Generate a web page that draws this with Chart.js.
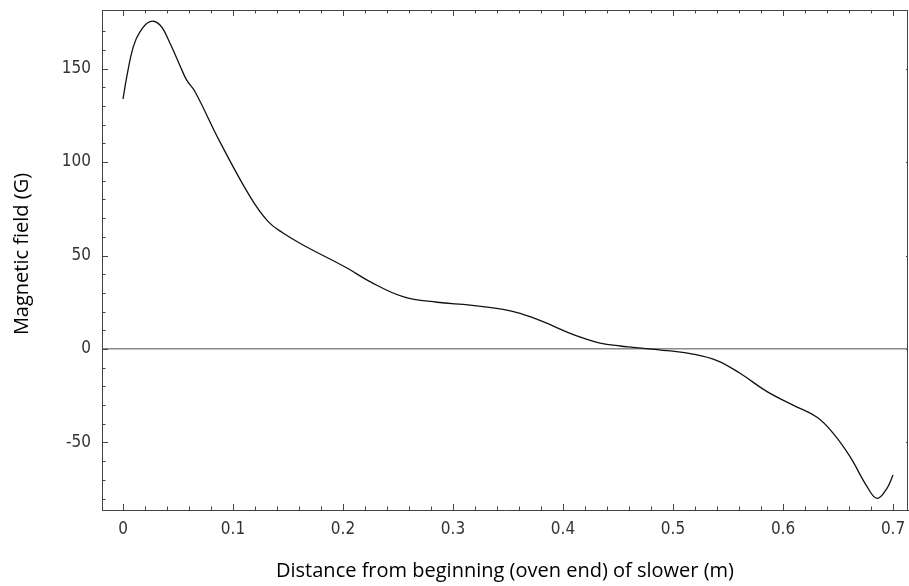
<!DOCTYPE html>
<html><head><meta charset="utf-8">
<script src="https://cdn.jsdelivr.net/npm/chart.js@4/dist/chart.umd.min.js"></script>
<style>html,body{margin:0;padding:0;background:#fff}#wrap{width:909px;height:586px}</style>
</head><body><div id="wrap"><canvas id="c" width="909" height="586"></canvas></div>
<script>
// Distance from beginning of slower (m)
const distance = [0, 0.0034, 0.0094, 0.0155, 0.0245, 0.0336, 0.0427, 0.0518, 0.0579, 0.0655, 0.088, 0.1155, 0.132, 0.1455, 0.1636, 0.2036, 0.2245, 0.2545, 0.2855, 0.3155, 0.3455, 0.361, 0.3818, 0.4064, 0.4218, 0.4336, 0.4518, 0.4636, 0.4945, 0.5182, 0.54, 0.5609, 0.5855, 0.6091, 0.6309, 0.6455, 0.6609, 0.6764, 0.6855, 0.6945, 0.7];
// Magnetic field (G)
const field = [133.7, 145.6, 161.7, 169.7, 175.1, 173.3, 163.5, 151.5, 143.8, 137.6, 110.9, 81.5, 68.1, 62, 55.6, 43.3, 36, 28, 25, 23.5, 21.2, 19, 14.6, 8.4, 5.2, 3.2, 1.6, 0.9, -0.9, -2.7, -6.2, -13, -22.8, -30, -36.5, -45, -57.6, -73.6, -79.9, -74.5, -67.4];
const xTickValues = [0, 0.1, 0.2, 0.3, 0.4, 0.5, 0.6, 0.7];
const yTickValues = [-50, 0, 50, 100, 150];
const xTitle = 'Distance from beginning (oven end) of slower (m)';
const yTitle = 'Magnetic field (G)';

const tickFont = {family: '"Liberation Sans Narrow", "DejaVu Sans Condensed", "Liberation Sans", sans-serif', size: 17};
const titleFont = {family: '"Open Sans", "Noto Sans", sans-serif', size: 20};

const framePlugin = {
  id: 'frame',
  afterDraw(chart) {
    const {ctx, chartArea: a, scales: {x, y}} = chart;
    ctx.save();
    ctx.strokeStyle = '#444';
    ctx.lineWidth = 1;
    ctx.beginPath();
    ctx.moveTo(a.left, a.top + 0.5); ctx.lineTo(a.right, a.top + 0.5);
    ctx.moveTo(a.right - 0.5, a.top); ctx.lineTo(a.right - 0.5, a.bottom);
    ctx.stroke();
    ctx.beginPath();
    for (let i = 0; i <= 35; i++) {
      const v = i * 0.02;
      const px = Math.round(x.getPixelForValue(v)) + 0.5;
      if (px < a.left + 2 || px > a.right - 2) continue;
      const major = i % 5 === 0;
      const len = major ? 6 : 3.5;
      ctx.moveTo(px, a.bottom); ctx.lineTo(px, a.bottom - len);
      ctx.moveTo(px, a.top); ctx.lineTo(px, a.top + len);
    }
    for (let v = -80; v <= 180; v += 10) {
      const py = Math.round(y.getPixelForValue(v)) + 0.5;
      if (py < a.top + 3 || py > a.bottom - 3) continue;
      const major = v % 50 === 0;
      const len = major ? 6 : 3.5;
      ctx.moveTo(a.left, py); ctx.lineTo(a.left + len, py);
      if (major) { ctx.moveTo(a.right, py); ctx.lineTo(a.right - 2, py); }
    }
    ctx.stroke();
    ctx.translate(22, 254);
    ctx.rotate(-Math.PI / 2);
    ctx.font = titleFont.size + 'px ' + titleFont.family;
    ctx.fillStyle = '#000';
    ctx.textAlign = 'center';
    ctx.textBaseline = 'middle';
    ctx.fillText(yTitle, 0, 0);
    ctx.restore();
  }
};

new Chart(document.getElementById('c'), {
  type: 'line',
  data: {
    datasets: [{
      data: distance.map((d, i) => ({x: d, y: field[i]})),
      borderColor: '#111',
      borderWidth: 1.3,
      pointRadius: 0,
      tension: 0.4,
      fill: false
    }]
  },
  options: {
    responsive: false,
    animation: false,
    devicePixelRatio: 1,
    layout: {padding: {top: 10, right: 1, left: 0, bottom: 0}},
    plugins: {legend: {display: false}, tooltip: {enabled: false}},
    scales: {
      x: {
        type: 'linear',
        min: -0.0191,
        max: 0.7136,
        afterBuildTicks: s => { s.ticks = xTickValues.map(v => ({value: v})); },
        afterFit: s => { s.height = 76; s.paddingLeft = 0; s.paddingRight = 0; },
        grid: {display: false, drawTicks: false},
        border: {display: true, color: '#444', width: 1},
        ticks: {
          font: tickFont, color: '#333', padding: 9, maxRotation: 0, autoSkip: false,
          callback: v => String(+Number(v).toFixed(1))
        },
        title: {display: true, text: xTitle, font: titleFont, color: '#000', padding: {top: 0, bottom: 3}}
      },
      y: {
        type: 'linear',
        min: -86.1,
        max: 181.3,
        afterBuildTicks: s => { s.ticks = yTickValues.map(v => ({value: v})); },
        afterFit: s => { s.width = 102; s.paddingTop = 0; s.paddingBottom = 0; },
        grid: {
          display: true, drawTicks: false, drawOnChartArea: true,
          color: c => (c.tick && c.tick.value === 0) ? '#8a8a8a' : 'rgba(0,0,0,0)',
          lineWidth: c => (c.tick && c.tick.value === 0) ? 1.6 : 0
        },
        border: {display: true, color: '#444', width: 1},
        ticks: {font: tickFont, color: '#333', padding: 11, crossAlign: 'near', callback: v => String(v)},
        title: {display: false}
      }
    }
  },
  plugins: [framePlugin]
});
</script>
</body></html>
